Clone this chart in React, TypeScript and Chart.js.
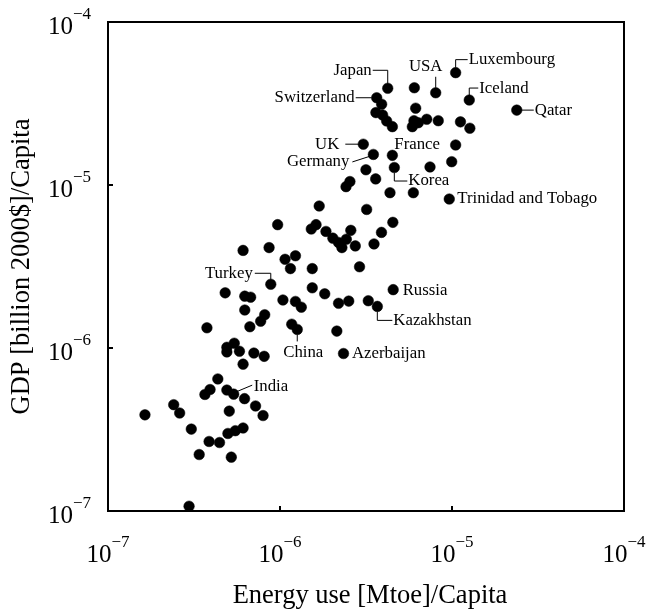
import React, { useEffect, useRef } from "react";
import { Chart, registerables } from "chart.js";

Chart.register(...registerables);

// ---- Data ----
const countryNames: string[] = [
  "Japan", "USA", "Luxembourg", "Iceland", "Qatar", "Switzerland", "UK", "Germany",
  "France", "Korea", "Trinidad and Tobago", "Turkey", "Russia", "Kazakhstan", "China",
  "Azerbaijan", "India",
];

// Energy use [Mtoe]/Capita
const energyUse: number[] = [
  4.23e-6, 8.04e-6, 1.05e-5, 1.26e-5, 2.38e-5, 3.65e-6, 3.05e-6, 3.49e-6,
  4.5e-6, 4.62e-6, 9.64e-6, 8.84e-7, 4.55e-6, 3.68e-6, 1.26e-6, 2.34e-6, 5.38e-7,
  6.04e-6, 3.9e-6, 3.61e-6, 3.95e-6, 4.17e-6, 4.5e-6, 6.15e-6, 6.01e-6, 5.88e-6,
  6.37e-6, 7.13e-6, 8.32e-6, 1.12e-5, 1.27e-5, 1.05e-5, 9.96e-6, 7.45e-6, 5.96e-6,
  3.16e-6, 3.6e-6, 2.55e-6, 2.42e-6, 4.36e-6, 1.69e-6, 3.19e-6, 9.69e-7, 1.62e-6,
  1.52e-6, 1.85e-6, 2.58e-6, 2.03e-6, 2.19e-6, 2.29e-6, 2.43e-6, 2.74e-6, 3.89e-6,
  4.53e-6, 3.52e-6, 6.1e-7, 8.64e-7, 1.07e-6, 1.23e-6, 1.15e-6, 1.54e-6, 2.9e-6,
  4.8e-7, 6.24e-7, 6.75e-7, 1.54e-6, 1.82e-6, 1.04e-6, 1.23e-6, 1.33e-6, 2.19e-6,
  2.51e-6, 3.26e-6, 6.24e-7, 8.15e-7, 7.72e-7, 6.68e-7, 3.76e-7, 1.17e-6, 2.14e-6,
  4.91e-7, 5.42e-7, 4.91e-7, 5.81e-7, 6.1e-7, 7.05e-7, 8.09e-7, 4.35e-7, 3.66e-7,
  3.92e-7, 4.91e-7, 6.22e-7, 7.21e-7, 7.97e-7, 2.41e-7, 2.61e-7, 1.64e-7, 5.07e-7,
  3.05e-7, 4.98e-7, 5.5e-7, 6.1e-7, 3.87e-7, 4.45e-7, 3.39e-7, 5.21e-7, 2.96e-7,
];

// GDP [billion 2000$]/Capita
const gdpPerCapita: number[] = [
  3.92e-5, 3.68e-5, 4.89e-5, 3.32e-5, 2.88e-5, 3.43e-5, 1.78e-5, 1.54e-5,
  1.52e-5, 1.28e-5, 8.2e-6, 2.46e-6, 2.28e-6, 1.8e-6, 1.3e-6, 9.25e-7, 5.21e-7,
  3.95e-5, 3.13e-5, 2.78e-5, 2.69e-5, 2.47e-5, 2.28e-5, 2.96e-5, 2.48e-5, 2.28e-5,
  2.41e-5, 2.53e-5, 2.48e-5, 2.44e-5, 2.23e-5, 1.76e-5, 1.39e-5, 1.29e-5, 8.97e-6,
  1.24e-5, 1.09e-5, 1.05e-5, 9.77e-6, 8.97e-6, 7.43e-6, 7.08e-6, 5.71e-6, 5.71e-6,
  5.37e-6, 5.19e-6, 5.27e-6, 4.72e-6, 4.44e-6, 4.13e-6, 4.65e-6, 4.23e-6, 5.12e-6,
  5.9e-6, 4.35e-6, 3.97e-6, 4.13e-6, 3.5e-6, 3.68e-6, 3.07e-6, 3.07e-6, 3.15e-6,
  2.18e-6, 2.08e-6, 2.05e-6, 2.34e-6, 2.15e-6, 1.97e-6, 1.93e-6, 1.78e-6, 1.88e-6,
  1.94e-6, 1.95e-6, 1.71e-6, 1.6e-6, 1.46e-6, 1.35e-6, 1.33e-6, 1.4e-6, 1.27e-6,
  1.01e-6, 1.07e-6, 9.46e-7, 9.55e-7, 7.96e-7, 9.31e-7, 8.89e-7, 6.46e-7, 5.19e-7,
  5.56e-7, 5.52e-7, 4.89e-7, 4.41e-7, 3.85e-7, 4.49e-7, 3.99e-7, 3.89e-7, 4.1e-7,
  3.18e-7, 2.99e-7, 3.11e-7, 3.23e-7, 2.67e-7, 2.63e-7, 2.22e-7, 2.14e-7, 1.07e-7,
];

const tickExponents: number[] = [-7, -6, -5, -4];
const xTitle = "Energy use [Mtoe]/Capita";
const yTitle = "GDP [billion 2000$]/Capita";

// ---- Label layout (pixel offsets from each labelled point) ----
type Ann = {
  name: string;
  align: CanvasTextAlign;
  dx: number;
  dy: number;
  leader: number[][];
};
const annotations: Ann[] = [
  { name: "Japan", align: "right", dx: -16, dy: -18, leader: [[-15, -18], [0, -18], [0, -5]] },
  { name: "USA", align: "center", dx: -10, dy: -26, leader: [[0, -16], [0, -5]] },
  { name: "Luxembourg", align: "left", dx: 13, dy: -13, leader: [[0, -5], [0, -13], [12, -13]] },
  { name: "Iceland", align: "left", dx: 10, dy: -11, leader: [[0, -5], [0, -12], [9, -12]] },
  { name: "Qatar", align: "left", dx: 18, dy: 0, leader: [[5, 0], [17, 0]] },
  { name: "Switzerland", align: "right", dx: -22, dy: 0, leader: [[-21, 0], [-5, 0]] },
  { name: "UK", align: "right", dx: -24, dy: 0, leader: [[-18, 0], [-5, 0]] },
  { name: "Germany", align: "right", dx: -24, dy: 7, leader: [[-21, 7.5], [-4, 2]] },
  { name: "France", align: "left", dx: 2, dy: -11, leader: [] },
  { name: "Korea", align: "left", dx: 14, dy: 13, leader: [[0, 5], [0, 13.5], [13, 13.5]] },
  { name: "Trinidad and Tobago", align: "left", dx: 8, dy: 0, leader: [] },
  { name: "Turkey", align: "right", dx: -18, dy: -11, leader: [[-16, -11], [0, -11], [0, -5]] },
  { name: "Russia", align: "left", dx: 9.5, dy: 1, leader: [] },
  { name: "Kazakhstan", align: "left", dx: 16, dy: 14, leader: [[0, 5], [0, 14], [15, 14]] },
  { name: "China", align: "center", dx: 6, dy: 23, leader: [[0, 5], [0, 12]] },
  { name: "Azerbaijan", align: "left", dx: 8.5, dy: 0, leader: [] },
  { name: "India", align: "left", dx: 20, dy: -7.5, leader: [[3, -2.5], [18.5, -9]] },
];

const SERIF = '"Liberation Serif", "Times New Roman", Times, serif';

function drawPow(
  ctx: CanvasRenderingContext2D,
  exp: number,
  x: number,
  baseline: number,
  align: "center" | "right"
) {
  const base = "10";
  const sup = "\u2212" + String(Math.abs(exp));
  ctx.font = `25px ${SERIF}`;
  const wb = ctx.measureText(base).width;
  ctx.font = `17px ${SERIF}`;
  const ws = ctx.measureText(sup).width;
  const total = wb + ws;
  const start = align === "center" ? x - total / 2 : x - total;
  ctx.textAlign = "left";
  ctx.textBaseline = "alphabetic";
  ctx.font = `25px ${SERIF}`;
  ctx.fillText(base, start, baseline);
  ctx.font = `17px ${SERIF}`;
  ctx.fillText(sup, start + wb, baseline - 15);
}

const framePlugin = {
  id: "framePlugin",
  afterDraw(chart: any) {
    const { ctx, chartArea: a, scales } = chart;
    const xs = scales.x;
    const ys = scales.y;
    ctx.save();
    ctx.fillStyle = "#000";
    ctx.strokeStyle = "#000";

    // frame
    ctx.lineWidth = 2;
    ctx.strokeRect(a.left, a.top, a.right - a.left, a.bottom - a.top);

    // ticks and tick labels
    for (const e of tickExponents) {
      const v = Math.pow(10, e);
      const px = xs.getPixelForValue(v);
      const py = ys.getPixelForValue(v);
      ctx.lineWidth = 2;
      ctx.beginPath();
      ctx.moveTo(px, a.bottom);
      ctx.lineTo(px, a.bottom - 5);
      ctx.moveTo(a.left, py);
      ctx.lineTo(a.left + 5, py);
      ctx.stroke();
      drawPow(ctx, e, px, a.bottom + 51, "center");
      drawPow(ctx, e, a.left - 17, py + 12, "right");
    }

    // axis titles
    ctx.font = `26.5px ${SERIF}`;
    ctx.textAlign = "center";
    ctx.textBaseline = "alphabetic";
    ctx.fillText(xTitle, (a.left + a.right) / 2 + 4, a.bottom + 92);
    ctx.save();
    ctx.translate(29, (a.top + a.bottom) / 2);
    ctx.rotate(-Math.PI / 2);
    ctx.fillText(yTitle, 0, 0);
    ctx.restore();

    // annotations
    ctx.font = `16.8px ${SERIF}`;
    ctx.textBaseline = "middle";
    ctx.lineWidth = 1;
    for (const an of annotations) {
      const i = countryNames.indexOf(an.name);
      if (i < 0) continue;
      const px = xs.getPixelForValue(energyUse[i]);
      const py = ys.getPixelForValue(gdpPerCapita[i]);
      if (an.leader.length > 1) {
        ctx.beginPath();
        an.leader.forEach((p, k) => {
          if (k === 0) ctx.moveTo(px + p[0], py + p[1]);
          else ctx.lineTo(px + p[0], py + p[1]);
        });
        ctx.stroke();
      }
      ctx.textAlign = an.align;
      ctx.fillText(an.name, px + an.dx, py + an.dy);
    }
    ctx.restore();
  },
};

export default function App() {
  const canvasRef = useRef<HTMLCanvasElement | null>(null);

  useEffect(() => {
    if (!canvasRef.current) return;
    const points = energyUse.map((x, i) => ({ x, y: gdpPerCapita[i] }));
    const chart = new Chart(canvasRef.current, {
      type: "scatter",
      data: {
        datasets: [
          {
            data: points,
            pointRadius: 5.3,
            pointHoverRadius: 5.3,
            pointBackgroundColor: "#000",
            pointBorderColor: "#000",
            pointBorderWidth: 0.5,
          },
        ],
      },
      options: {
        animation: false,
        responsive: true,
        maintainAspectRatio: false,
        events: [],
        layout: { padding: { left: 108, right: 25, top: 22, bottom: 100 } },
        scales: {
          x: { type: "logarithmic", min: 1e-7, max: 1e-4, display: false },
          y: { type: "logarithmic", min: 1e-7, max: 1e-4, display: false },
        },
        plugins: {
          legend: { display: false },
          tooltip: { enabled: false },
        },
      },
      plugins: [framePlugin],
    });
    return () => chart.destroy();
  }, []);

  return (
    <div
      style={{
        position: "absolute",
        left: 0,
        top: 0,
        width: 649,
        height: 611,
        background: "#fff",
      }}
    >
      <canvas ref={canvasRef} />
    </div>
  );
}
